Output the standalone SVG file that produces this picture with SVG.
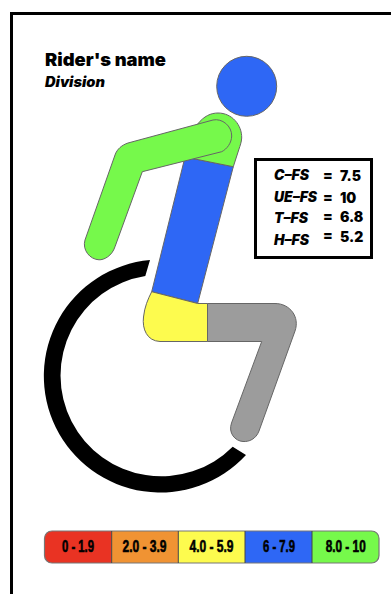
<svg xmlns="http://www.w3.org/2000/svg" width="391" height="594" viewBox="0 0 391 594">
<style>
.part{stroke:#666;stroke-width:1}
.blue{fill:#2E67F5}.green{fill:#76F94B}.yellow{fill:#FDFB4E}.gray{fill:#9C9C9C}.red{fill:#E93323}.orange{fill:#F09333}
.h{font-family:"Inter","Liberation Sans",sans-serif;font-weight:900;fill:#000}
.st{font-family:"Inter","Liberation Sans",sans-serif;font-weight:900;font-size:14px;fill:#000}
.i{font-style:italic}
.lg{font-family:"Liberation Sans",sans-serif;font-weight:700;font-size:16px;fill:#000;text-anchor:middle;stroke:#000;stroke-width:.6}
</style>
<rect width="391" height="594" fill="#fff"/>
<path d="M391 13.500H11.500V594" fill="none" stroke="#000" stroke-width="3"/>
<g id="title">
<text class="h" x="45" y="66" font-size="18" textLength="121" lengthAdjust="spacingAndGlyphs">Rider's name</text>
<text class="h i" x="45" y="87" font-size="14" textLength="60" lengthAdjust="spacingAndGlyphs">Division</text>
</g>
<g id="wheel"><path d="M150 260A116.500 116.500 0 1 0 246 455L232.700 446.700A100.800 100.800 0 1 1 145.300 276Z" fill="#000"/></g>
<g id="head"><circle class="part blue" cx="246.700" cy="86.300" r="30"/></g>
<g id="trunk"><path class="part blue" d="M185 157L233.300 166.700L197.700 303.300L151.700 291.700Z"/></g>
<g id="pelvis"><path class="part yellow" d="M151.700 291.700L197.700 303.500H207.500V341.500H160C147 341 142 329 143.500 317C144.500 307 148 299 151.700 291.700Z"/></g>
<g id="leg"><path class="part gray" d="M207.500 303.500H275C290 303.500 300 317 295 331L259 431C256 439 249 442 243 441.500C235 441 228 433 231.500 423L261.700 341.500H207.500Z"/></g>
<g id="shoulder"><path class="part green" d="M185 157L197.700 124C204 116 211 113 218 113C232 113 242 125 241.700 138C241.500 142 240 146 239 149L233.300 166.700Z"/></g>
<g id="arm"><path class="part green" d="M213 120C222 118 232 126 231.700 136C231.500 143 227 149 221.700 151.700L142.300 171.700L115 246.700C112 256 104 260 99 259.800C90 259.500 82 250 85 240L115 155C117 149 122 145 128 143Z"/></g>
<g id="scores">
<rect x="255.500" y="159.500" width="116" height="98" fill="#fff" stroke="#000" stroke-width="3"/>
<text class="st i" x="274" y="179.500">C–FS</text><text class="st" x="323" y="180">=</text><text class="st" x="340" y="181">7.5</text>
<text class="st i" x="274" y="201.500" textLength="43" lengthAdjust="spacingAndGlyphs">UE–FS</text><text class="st" x="323" y="201.500">=</text><text class="st" x="340" y="203">10</text>
<text class="st i" x="274" y="223">T–FS</text><text class="st" x="323" y="221">=</text><text class="st" x="340" y="222">6.8</text>
<text class="st i" x="274" y="244.500">H–FS</text><text class="st" x="323" y="240">=</text><text class="st" x="340" y="242">5.2</text>
</g>
<g id="legend">
<path class="red" d="M111.700 531H52C47.500 531 44.500 534 44.500 538.500V555.500C44.500 560 47.500 563 52 563H111.700Z"/>
<rect class="orange" x="111.700" y="531" width="66.600" height="32"/>
<rect class="yellow" x="178.300" y="531" width="66.700" height="32"/>
<rect class="blue" x="245" y="531" width="67" height="32"/>
<path class="green" d="M312 531H371.500C376 531 379 534 379 538.500V555.500C379 560 376 563 371.500 563H312Z"/>
<rect x="44.500" y="531" width="334.500" height="32" rx="7.500" fill="none" stroke="#777" stroke-width="1.200"/>
<path d="M111.700 531V563M178.300 531V563M245 531V563M312 531V563" stroke="#444" stroke-width="1" fill="none"/>
<text class="lg" x="78" y="551.500" textLength="32" lengthAdjust="spacingAndGlyphs">0 - 1.9</text>
<text class="lg" x="144.500" y="551.500" textLength="44" lengthAdjust="spacingAndGlyphs">2.0 - 3.9</text>
<text class="lg" x="211.500" y="551.500" textLength="44" lengthAdjust="spacingAndGlyphs">4.0 - 5.9</text>
<text class="lg" x="279" y="551.500" textLength="32" lengthAdjust="spacingAndGlyphs">6 - 7.9</text>
<text class="lg" x="345.700" y="551.500" textLength="40" lengthAdjust="spacingAndGlyphs">8.0 - 10</text>
</g>
</svg>
